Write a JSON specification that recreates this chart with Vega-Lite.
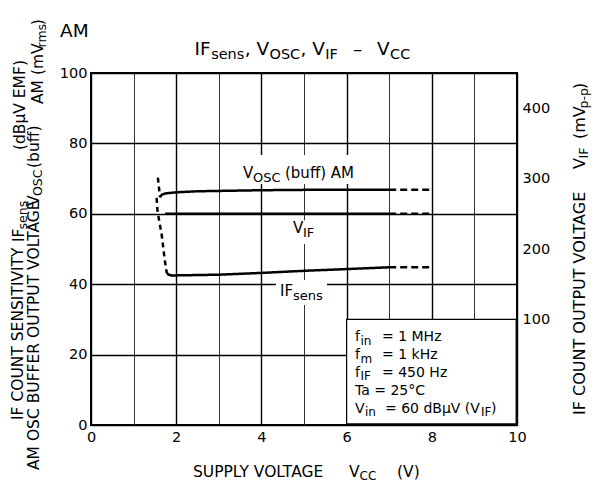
{
  "$schema": "https://vega.github.io/schema/vega-lite/v6.json",
  "width": 426,
  "height": 352,
  "autosize": {"type": "none"},
  "padding": {"left": 91, "top": 73, "right": 84, "bottom": 60},
  "background": "white",
  "config": {
    "view": {"stroke": "black", "strokeWidth": 2},
    "font": "DejaVu Sans",
    "axis": {"domain": false, "ticks": false, "labelFont": "DejaVu Sans", "labelFontSize": 14.5, "labelColor": "black"},
    "text": {"font": "DejaVu Sans", "color": "black"}
  },
  "datasets": {
    "curves": [
      {"series": "VOSC", "part": "start", "x": 1.57, "y": 70.3},
      {"series": "VOSC", "part": "start", "x": 1.595, "y": 67.5},
      {"series": "VOSC", "part": "start", "x": 1.62, "y": 64.7},
      {"series": "VOSC", "part": "main", "x": 1.62, "y": 64.7},
      {"series": "VOSC", "part": "main", "x": 1.66, "y": 65.4},
      {"series": "VOSC", "part": "main", "x": 1.75, "y": 65.8},
      {"series": "VOSC", "part": "main", "x": 2.0, "y": 66.1},
      {"series": "VOSC", "part": "main", "x": 2.5, "y": 66.4},
      {"series": "VOSC", "part": "main", "x": 3.0, "y": 66.5},
      {"series": "VOSC", "part": "main", "x": 4.0, "y": 66.7},
      {"series": "VOSC", "part": "main", "x": 5.0, "y": 66.8},
      {"series": "VOSC", "part": "main", "x": 6.0, "y": 66.8},
      {"series": "VOSC", "part": "main", "x": 7.0, "y": 66.8},
      {"series": "VOSC", "part": "end", "x": 7.0, "y": 66.8},
      {"series": "VOSC", "part": "end", "x": 8.0, "y": 66.8},
      {"series": "IFsens", "part": "start", "x": 1.54, "y": 64.5},
      {"series": "IFsens", "part": "start", "x": 1.56, "y": 61.0},
      {"series": "IFsens", "part": "start", "x": 1.6, "y": 58.0},
      {"series": "IFsens", "part": "start", "x": 1.66, "y": 54.0},
      {"series": "IFsens", "part": "start", "x": 1.7, "y": 50.0},
      {"series": "IFsens", "part": "start", "x": 1.73, "y": 47.0},
      {"series": "IFsens", "part": "start", "x": 1.76, "y": 44.5},
      {"series": "IFsens", "part": "start", "x": 1.78, "y": 43.2},
      {"series": "IFsens", "part": "main", "x": 1.78, "y": 43.2},
      {"series": "IFsens", "part": "main", "x": 1.82, "y": 42.7},
      {"series": "IFsens", "part": "main", "x": 1.9, "y": 42.5},
      {"series": "IFsens", "part": "main", "x": 2.0, "y": 42.5},
      {"series": "IFsens", "part": "main", "x": 3.0, "y": 42.7},
      {"series": "IFsens", "part": "main", "x": 4.0, "y": 43.2},
      {"series": "IFsens", "part": "main", "x": 5.0, "y": 43.8},
      {"series": "IFsens", "part": "main", "x": 6.0, "y": 44.3},
      {"series": "IFsens", "part": "main", "x": 7.0, "y": 44.8},
      {"series": "IFsens", "part": "end", "x": 7.0, "y": 44.8},
      {"series": "IFsens", "part": "end", "x": 8.0, "y": 44.8}
    ],
    "vif": [
      {"series": "VIF", "part": "main", "x": 1.74, "y": 250},
      {"series": "VIF", "part": "main", "x": 4.0, "y": 250},
      {"series": "VIF", "part": "main", "x": 7.0, "y": 250},
      {"series": "VIF", "part": "end", "x": 7.0, "y": 250},
      {"series": "VIF", "part": "end", "x": 8.0, "y": 250}
    ],
    "masks": [
      {"x": 3.45, "x2": 6.43, "y": 68.5, "y2": 76.7},
      {"x": 4.62, "x2": 5.38, "y": 51.4, "y2": 58.2},
      {"x": 4.34, "x2": 5.54, "y": 34.1, "y2": 41.2}
    ],
    "box": [{"x": 6, "x2": 9.98, "y": 0.3, "y2": 30}],
    "t_title": [
      {"x": 2.43, "y": 105.1, "t": "IF"},
      {"x": 3.61, "y": 105.1, "t": ", V"},
      {"x": 4.92, "y": 105.1, "t": ", V"},
      {"x": 6.15, "y": 105.1, "t": "–"},
      {"x": 6.714, "y": 105.1, "t": "V"},
      {"x": -0.728, "y": 110.2, "t": "AM"}
    ],
    "t_title_sub": [
      {"x": 2.82, "y": 105.1, "t": "sens"},
      {"x": 4.19, "y": 105.1, "t": "OSC"},
      {"x": 5.5, "y": 105.1, "t": "IF"},
      {"x": 7.019, "y": 105.1, "t": "CC"}
    ],
    "t_lab": [
      {"x": 3.568, "y": 70.3, "t": "V"},
      {"x": 4.554, "y": 70.3, "t": "(buff) AM"},
      {"x": 4.742, "y": 54.55, "t": "V"},
      {"x": 4.437, "y": 36.65, "t": "IF"}
    ],
    "t_lab_sub": [
      {"x": 3.803, "y": 70.3, "t": "OSC"},
      {"x": 4.977, "y": 54.55, "t": "IF"},
      {"x": 4.742, "y": 36.65, "t": "sens"}
    ],
    "t_box": [
      {"x": 6.197, "y": 23.86, "t": "f"},
      {"x": 6.831, "y": 23.86, "t": "= 1 MHz"},
      {"x": 6.197, "y": 18.75, "t": "f"},
      {"x": 6.831, "y": 18.75, "t": "= 1 kHz"},
      {"x": 6.197, "y": 13.64, "t": "f"},
      {"x": 6.831, "y": 13.64, "t": "= 450 Hz"},
      {"x": 6.197, "y": 8.52, "t": "Ta = 25°C"},
      {"x": 6.197, "y": 3.41, "t": "V"},
      {"x": 6.901, "y": 3.41, "t": "= 60 dBμV (V"},
      {"x": 9.39, "y": 3.41, "t": ")"}
    ],
    "t_box_sub": [
      {"x": 6.326, "y": 23.86, "t": "in"},
      {"x": 6.326, "y": 18.75, "t": "m"},
      {"x": 6.326, "y": 13.64, "t": "IF"},
      {"x": 6.432, "y": 3.41, "t": "in"},
      {"x": 9.155, "y": 3.41, "t": "IF"},
      {"x": 6.303, "y": -14.77, "t": "CC"}
    ],
    "t_xt": [
      {"x": 2.394, "y": -14.77, "t": "SUPPLY VOLTAGE"},
      {"x": 6.056, "y": -14.77, "t": "V"},
      {"x": 7.183, "y": -14.77, "t": "(V)"}
    ],
    "t_rot": [
      {"x": -1.585, "y": 1.42, "t": "IF COUNT SENSITIVITY"},
      {"x": -1.573, "y": 51.99, "t": "IF"},
      {"x": -1.549, "y": 78.1, "t": "(dBμV EMF)"},
      {"x": -1.232, "y": -12.78, "t": "AM OSC BUFFER OUTPUT VOLTAGE"},
      {"x": -1.232, "y": 62.22, "t": "V"},
      {"x": -1.232, "y": 73.01, "t": "(buff)"},
      {"x": -1.127, "y": 91.19, "t": "AM (mV"},
      {"x": -1.127, "y": 113.6, "t": ")"}
    ],
    "t_rot_r": [
      {"x": 11.596, "y": 2.84, "t": "IF COUNT OUTPUT VOLTAGE"},
      {"x": 11.596, "y": 72.73, "t": "V"},
      {"x": 11.596, "y": 81.25, "t": "(mV"},
      {"x": 11.596, "y": 95.45, "t": ")"}
    ],
    "t_rot_sub": [
      {"x": -1.573, "y": 55.54, "t": "sens"},
      {"x": -1.232, "y": 65.06, "t": "OSC"},
      {"x": -1.127, "y": 107.24, "t": "rms"},
      {"x": 11.596, "y": 75.71, "t": "IF"},
      {"x": 11.596, "y": 89.91, "t": "p-p"}
    ]
  },
  "layer": [
    {
      "layer": [
        {
          "data": {"name": "masks"},
          "mark": {"type": "rect", "fill": "white", "strokeWidth": 0},
          "encoding": {
            "x": {"field": "x", "type": "quantitative", "title": null, "scale": {"domain": [0, 10], "nice": false},
              "axis": {"values": [0, 1, 2, 3, 4, 5, 6, 7, 8, 9, 10], "labelExpr": "datum.value % 2 === 0 ? datum.label : ''", "grid": true,
                "gridColor": {"condition": {"test": "datum.value % 2 === 0", "value": "black"}, "value": "#333333"},
                "gridWidth": {"condition": {"test": "datum.value % 2 === 0", "value": 1.4}, "value": 1},
                "labelPadding": 5, "labelFlush": false, "labelOverlap": false}},
            "x2": {"field": "x2"},
            "y": {"field": "y", "type": "quantitative", "title": null, "scale": {"domain": [0, 100], "nice": false},
              "axis": {"values": [0, 10, 20, 30, 40, 50, 60, 70, 80, 90, 100], "labelExpr": "datum.value % 20 === 0 ? datum.label : ''", "grid": true,
                "gridColor": {"condition": {"test": "datum.value % 20 === 0", "value": "black"}, "value": "#333333"},
                "gridWidth": {"condition": {"test": "datum.value % 20 === 0", "value": 1.4}, "value": 1},
                "labelPadding": 4, "labelOverlap": false}},
            "y2": {"field": "y2"}
          }
        },
        {
          "data": {"name": "box"},
          "mark": {"type": "rect", "fill": "white", "stroke": "black", "strokeWidth": 1.2},
          "encoding": {
            "x": {"field": "x", "type": "quantitative", "title": null, "scale": {"domain": [0, 10], "nice": false}},
            "x2": {"field": "x2"},
            "y": {"field": "y", "type": "quantitative", "title": null, "scale": {"domain": [0, 100], "nice": false}},
            "y2": {"field": "y2"}
          }
        },
        {
          "data": {"name": "curves"},
          "mark": {"type": "line", "color": "black", "strokeWidth": 2.5},
          "encoding": {
            "x": {"field": "x", "type": "quantitative", "title": null, "scale": {"domain": [0, 10], "nice": false}},
            "y": {"field": "y", "type": "quantitative", "title": null, "scale": {"domain": [0, 100], "nice": false}},
            "detail": [{"field": "series"}, {"field": "part"}],
            "strokeDash": {"field": "part", "type": "nominal", "scale": {"domain": ["start", "main", "end"], "range": [[5, 4], [1, 0], [7, 4]]}, "legend": null}
          }
        },
        {
          "data": {"name": "t_title"},
          "mark": {"type": "text", "align": "left", "baseline": "alphabetic", "fontSize": 18.5},
          "encoding": {
            "x": {"field": "x", "type": "quantitative", "title": null, "scale": {"domain": [0, 10], "nice": false}},
            "y": {"field": "y", "type": "quantitative", "title": null, "scale": {"domain": [0, 100], "nice": false}},
            "text": {"field": "t"}
          }
        },
        {
          "data": {"name": "t_title_sub"},
          "mark": {"type": "text", "align": "left", "baseline": "alphabetic", "fontSize": 14.5, "dy": 4},
          "encoding": {
            "x": {"field": "x", "type": "quantitative", "title": null, "scale": {"domain": [0, 10], "nice": false}},
            "y": {"field": "y", "type": "quantitative", "title": null, "scale": {"domain": [0, 100], "nice": false}},
            "text": {"field": "t"}
          }
        },
        {
          "data": {"name": "t_lab"},
          "mark": {"type": "text", "align": "left", "baseline": "alphabetic", "fontSize": 15},
          "encoding": {
            "x": {"field": "x", "type": "quantitative", "title": null, "scale": {"domain": [0, 10], "nice": false}},
            "y": {"field": "y", "type": "quantitative", "title": null, "scale": {"domain": [0, 100], "nice": false}},
            "text": {"field": "t"}
          }
        },
        {
          "data": {"name": "t_lab_sub"},
          "mark": {"type": "text", "align": "left", "baseline": "alphabetic", "fontSize": 13, "dy": 4},
          "encoding": {
            "x": {"field": "x", "type": "quantitative", "title": null, "scale": {"domain": [0, 10], "nice": false}},
            "y": {"field": "y", "type": "quantitative", "title": null, "scale": {"domain": [0, 100], "nice": false}},
            "text": {"field": "t"}
          }
        },
        {
          "data": {"name": "t_box"},
          "mark": {"type": "text", "align": "left", "baseline": "alphabetic", "fontSize": 14},
          "encoding": {
            "x": {"field": "x", "type": "quantitative", "title": null, "scale": {"domain": [0, 10], "nice": false}},
            "y": {"field": "y", "type": "quantitative", "title": null, "scale": {"domain": [0, 100], "nice": false}},
            "text": {"field": "t"}
          }
        },
        {
          "data": {"name": "t_box_sub"},
          "mark": {"type": "text", "align": "left", "baseline": "alphabetic", "fontSize": 12, "dy": 3.5},
          "encoding": {
            "x": {"field": "x", "type": "quantitative", "title": null, "scale": {"domain": [0, 10], "nice": false}},
            "y": {"field": "y", "type": "quantitative", "title": null, "scale": {"domain": [0, 100], "nice": false}},
            "text": {"field": "t"}
          }
        },
        {
          "data": {"name": "t_xt"},
          "mark": {"type": "text", "align": "left", "baseline": "alphabetic", "fontSize": 15.5},
          "encoding": {
            "x": {"field": "x", "type": "quantitative", "title": null, "scale": {"domain": [0, 10], "nice": false}},
            "y": {"field": "y", "type": "quantitative", "title": null, "scale": {"domain": [0, 100], "nice": false}},
            "text": {"field": "t"}
          }
        },
        {
          "data": {"name": "t_rot"},
          "mark": {"type": "text", "align": "left", "baseline": "alphabetic", "fontSize": 15.5, "angle": 270},
          "encoding": {
            "x": {"field": "x", "type": "quantitative", "title": null, "scale": {"domain": [0, 10], "nice": false}},
            "y": {"field": "y", "type": "quantitative", "title": null, "scale": {"domain": [0, 100], "nice": false}},
            "text": {"field": "t"}
          }
        },
        {
          "data": {"name": "t_rot_r"},
          "mark": {"type": "text", "align": "left", "baseline": "alphabetic", "fontSize": 16, "angle": 270},
          "encoding": {
            "x": {"field": "x", "type": "quantitative", "title": null, "scale": {"domain": [0, 10], "nice": false}},
            "y": {"field": "y", "type": "quantitative", "title": null, "scale": {"domain": [0, 100], "nice": false}},
            "text": {"field": "t"}
          }
        },
        {
          "data": {"name": "t_rot_sub"},
          "mark": {"type": "text", "align": "left", "baseline": "alphabetic", "fontSize": 12.5, "angle": 270, "dy": 3},
          "encoding": {
            "x": {"field": "x", "type": "quantitative", "title": null, "scale": {"domain": [0, 10], "nice": false}},
            "y": {"field": "y", "type": "quantitative", "title": null, "scale": {"domain": [0, 100], "nice": false}},
            "text": {"field": "t"}
          }
        }
      ]
    },
    {
      "data": {"name": "vif"},
      "mark": {"type": "line", "color": "black", "strokeWidth": 2.5},
      "encoding": {
        "x": {"field": "x", "type": "quantitative", "title": null, "scale": {"domain": [0, 10], "nice": false}},
        "y": {"field": "y", "type": "quantitative", "title": null, "scale": {"domain": [-50, 450], "nice": false},
          "axis": {"orient": "right", "values": [100, 200, 300, 400], "grid": false, "labelPadding": 5}},
        "detail": {"field": "part"},
        "strokeDash": {"field": "part", "type": "nominal", "scale": {"domain": ["start", "main", "end"], "range": [[5, 4], [1, 0], [7, 4]]}, "legend": null}
      }
    }
  ],
  "resolve": {"scale": {"y": "independent"}}
}
